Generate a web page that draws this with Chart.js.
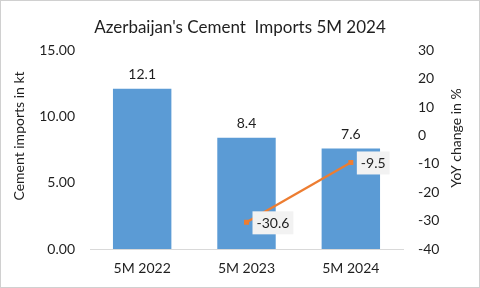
<!DOCTYPE html>
<html>
<head>
<meta charset="utf-8">
<script src="https://cdn.jsdelivr.net/npm/chart.js@4/dist/chart.umd.min.js"></script>
<style>
  body { margin: 0; background: #fff; }
  #chart { display: block; }
</style>
</head>
<body>
<canvas id="chart" width="480" height="288"></canvas>
<script>
// DATA
const categories = ['5M 2022', '5M 2023', '5M 2024'];
const imports = [12.1, 8.4, 7.6];
const yoyChange = [null, -30.6, -9.5];
const leftTicks = [0, 5, 10, 15];
const rightTicks = [-40, -30, -20, -10, 0, 10, 20, 30];

const FONT = 'Lato, "Liberation Sans", sans-serif';
const TXT = '#1f1f1f';

// labels, axis titles and frame
const extras = {
  id: 'extras',
  afterDatasetsDraw(chart) {
    const c = chart.ctx;
    c.save();
    c.font = '14px ' + FONT;
    c.fillStyle = TXT;
    c.textAlign = 'center';
    c.textBaseline = 'middle';

    // bar labels
    chart.getDatasetMeta(0).data.forEach((bar, i) => {
      c.fillText(imports[i].toFixed(1), bar.x, bar.y - 14);
    });

    // line labels in boxes
    chart.getDatasetMeta(1).data.forEach((pt, i) => {
      if (yoyChange[i] == null) return;
      const txt = yoyChange[i].toFixed(1);
      const w = c.measureText(txt).width + 8;
      const x0 = pt.x + 6;
      c.fillStyle = '#f2f2f2';
      c.fillRect(x0, pt.y - 11, w, 23);
      c.fillStyle = TXT;
      c.textAlign = 'left';
      c.fillText(txt, x0 + 4, pt.y + 1);
    });

    // axis titles
    c.textAlign = 'center';
    c.translate(19, 136);
    c.rotate(-Math.PI / 2);
    c.fillText('Cement imports in kt', 0, 0);
    c.setTransform(1, 0, 0, 1, 0, 0);
    c.translate(456, 138);
    c.rotate(-Math.PI / 2);
    c.fillText('YoY change in %', 0, 0);
    c.setTransform(1, 0, 0, 1, 0, 0);

    // frame
    c.strokeStyle = '#d0d0d0';
    c.lineWidth = 1;
    c.strokeRect(0.5, 0.5, 479, 287);
    c.restore();
  }
};

const ctx = document.getElementById('chart');
const myChart = new Chart(ctx, {
  data: {
    labels: categories,
    datasets: [{
      type: 'bar',
      data: imports,
      backgroundColor: '#5b9bd5',
      barPercentage: 0.56,
      categoryPercentage: 1,
      yAxisID: 'y',
      order: 2
    }, {
      type: 'line',
      data: yoyChange,
      borderColor: '#ed7d31',
      borderWidth: 2.25,
      backgroundColor: '#ed7d31',
      pointStyle: 'rect',
      pointRadius: 3.5,
      pointBorderWidth: 0,
      yAxisID: 'y1',
      order: 1
    }]
  },
  options: {
    responsive: false,
    animation: false,
    layout: { padding: 0 },
    plugins: {
      legend: { display: false },
      tooltip: { enabled: false },
      title: {
        display: true,
        text: "Azerbaijan's Cement  Imports 5M 2024",
        color: TXT,
        font: { family: FONT, size: 17, weight: 'normal' },
        padding: { top: 17, bottom: 13 }
      }
    },
    scales: {
      x: {
        grid: { display: false, drawTicks: false },
        border: { color: '#d9d9d9' },
        ticks: { color: TXT, font: { family: FONT, size: 14 }, padding: 11 },
        afterFit(s) { s.height = 39; }
      },
      y: {
        position: 'left',
        min: 0, max: 15,
        grid: { display: false, drawTicks: false },
        border: { display: false },
        afterBuildTicks(s) { s.ticks = leftTicks.map(v => ({ value: v })); },
        ticks: {
          color: TXT, font: { family: FONT, size: 14 }, padding: 15,
          callback: v => v.toFixed(2)
        },
        afterFit(s) { s.width = 90; }
      },
      y1: {
        position: 'right',
        min: -40, max: 30,
        grid: { display: false, drawTicks: false },
        border: { display: false },
        afterBuildTicks(s) { s.ticks = rightTicks.map(v => ({ value: v })); },
        ticks: { color: TXT, font: { family: FONT, size: 14 }, padding: 15 },
        afterFit(s) { s.width = 77; }
      }
    }
  },
  plugins: [extras]
});
</script>
</body>
</html>
